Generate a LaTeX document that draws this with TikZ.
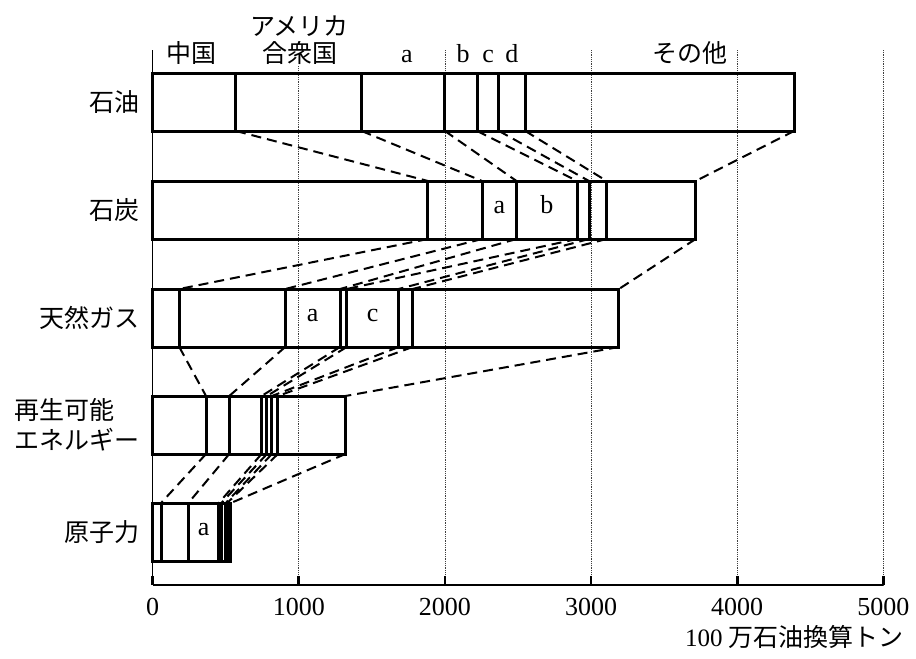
\documentclass[tikz,border=0pt]{standalone}
\usepackage{fontspec}
\setmainfont{Liberation Serif}
\newfontfamily\jpfont{Noto Sans CJK JP}
\usepackage{tikz}
\usetikzlibrary{positioning, calc}

\begin{document}
\begin{tikzpicture}[x=0.14612pt, y=-1pt,
  seg/.style={draw, line width=3pt},
  link/.style={line width=2pt, dash pattern=on 10pt off 6pt},
  guide/.style={line width=0.8pt, densely dotted, black!75},
  lbl/.style={font=\fontsize{25}{30}\selectfont\jpfont, inner sep=1pt},
  num/.style={font=\fontsize{26}{30}\selectfont, inner sep=1pt},
  tag/.style={num, text height=0.68em, text depth=0pt},
]
\useasboundingbox (-1045,0) rectangle (5224,659);

% Grid and axis
\foreach \v in {1000,2000,...,5000}
  \draw[guide] (\v,50) -- (\v,585);
\draw[line width=1pt] (0,50) -- (0,585);
\draw[line width=2.4pt] (0,585) -- (5000,585);
\foreach \v in {0,1000,...,5000} {
  \draw[line width=2.8pt] (\v,585) -- (\v,576);
  \node[num] (t\v) at (\v,607) {\v};
}
\node[lbl, anchor=east] (unit) at (5150,637) {\rmfamily 100 \jpfont 万石油換算トン};

% Bars: boundaries of China, USA, a, b, c, d, others
\foreach \n/\yt/\vals in {
    oil/73/{570,1430,2000,2220,2370,2550,4390},
    coal/181/{1884,2254,2490,2904,2986,3107,3716},
    gas/289/{182,907,1282,1328,1683,1779,3191},
    ren/396/{365,524,745,782,816,857,1319},
    nuc/503/{57,244,452,470,500,510,535}} {
  \foreach \v [count=\k] in \vals {
    \coordinate (\n-\k-t) at (\v,\yt);
    \coordinate (\n-\k-b) at (\v,\yt+58);
    \draw[seg] (\n-\k-t) -- (\n-\k-b);
  }
  \draw[seg] (0,\yt) rectangle (\n-7-b);
}

% Dashed links between bars
\foreach \a/\b in {oil/coal, coal/gas, gas/ren, ren/nuc}
  \foreach \k in {1,...,7}
    \draw[link] (\a-\k-b) -- (\b-\k-t);

% Letters inside bars
\node[tag] (coal-a) at ($(coal-2-t)!.5!(coal-3-b)$) {a};
\node[tag] (coal-b) at ($(coal-3-t)!.5!(coal-4-b)$) {b};
\node[tag] (gas-a) at ($(gas-2-t)!.5!(gas-3-b)$) {a};
\node[tag] (gas-c) at ($(gas-4-t)!.5!(gas-5-b)$) {c};
\node[tag] (nuc-a) at ($(nuc-2-t)!.5!(nuc-3-b)$) {a};

% Row labels
\node[lbl, anchor=east] (l-oil) at (-80,102) {石油};
\node[lbl, anchor=east] (l-coal) at (-80,210) {石炭};
\node[lbl, anchor=east] (l-gas) at (-80,318) {天然ガス};
\node[lbl, anchor=east, align=left] (l-ren) at (-80,425) {再生可能\\エネルギー};
\node[lbl, anchor=east] (l-nuc) at (-80,532) {原子力};

% Column labels
\node[lbl, fill=white, anchor=base] (h-cn) at (263,62) {中国};
\node[lbl, fill=white, anchor=base] (h-us) at (1005,62) {合衆国};
\node[lbl, fill=white, above=2pt of h-us] (h-us2) {アメリカ};
\node[num, anchor=base] (h-a) at (1740,62) {a};
\node[num, anchor=base] (h-b) at (2124,62) {b};
\node[num, anchor=base] (h-c) at (2295,62) {c};
\node[num, anchor=base] (h-d) at (2459,62) {d};
\node[lbl, anchor=base] (h-oth) at (3677,62) {その他};
\end{tikzpicture}
\end{document}
